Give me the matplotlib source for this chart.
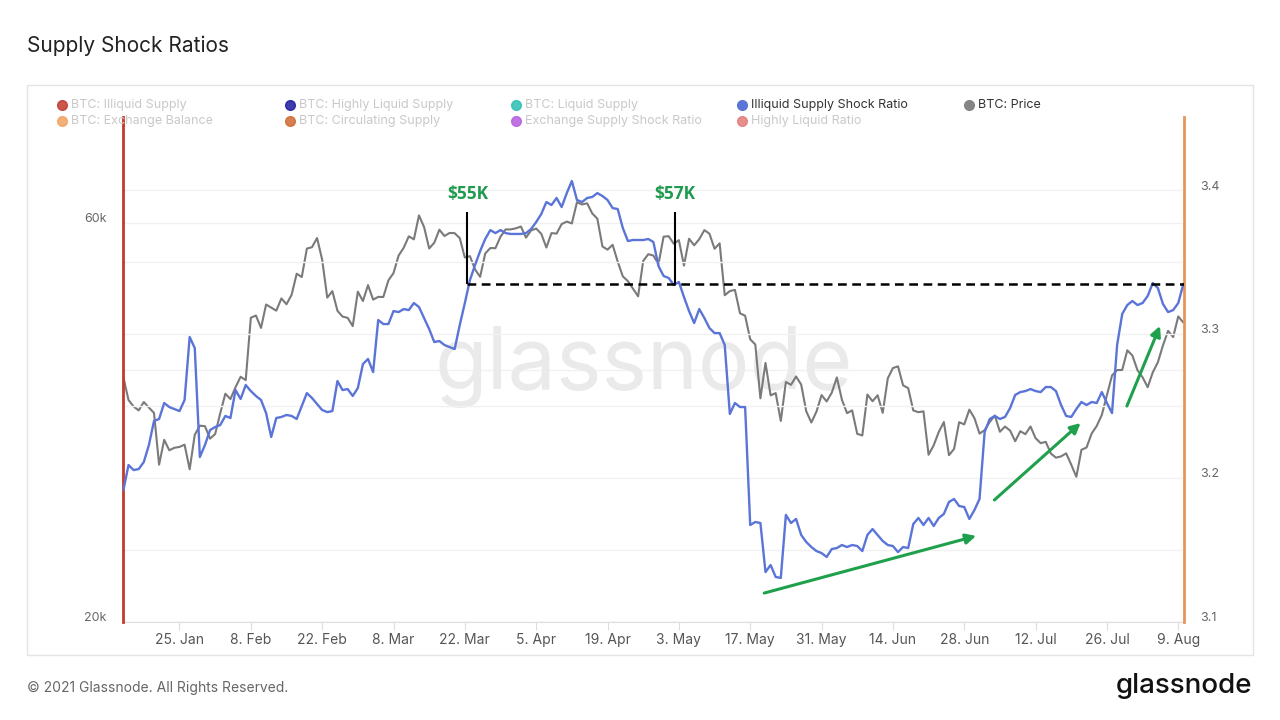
import matplotlib
matplotlib.use("Agg")
import matplotlib.pyplot as plt
import matplotlib.transforms as mtransforms
from matplotlib.lines import Line2D
from matplotlib.patches import Rectangle
import pandas as pd

plt.rcParams['font.family'] = ['Inter', 'DejaVu Sans']

# daily data, 14 Jan 2021 .. 10 Aug 2021
start = "2021-01-14"
btc_price = [
    39187, 36825, 36178, 35792, 36630, 36069, 35547, 30825, 33005, 32068, 32289, 32366, 32569, 30432, 33467, 34316, 34269, 33114,
    33538, 35510, 37473, 36926, 38144, 39266, 38904, 46196, 46481, 44919, 47910, 47505, 47105, 48717, 47945, 49199, 52149, 51679,
    55888, 56100, 57539, 54207, 48824, 49705, 47093, 46339, 46188, 45137,
    49632, 48378, 50538, 48561, 48927, 48912, 51206, 52246, 54824, 56008, 57805, 57332, 61243, 59302, 55907, 56804, 58870, 57858,
    58346, 58313, 57523, 54529, 54738, 52774, 51704, 55137, 55974, 55948, 57750, 58918, 58918,
    59095, 59384, 57604, 58759, 59057, 58207, 56048, 58323, 58245, 59794, 60204, 59894, 63504, 63110, 63314, 61572, 60684, 56216,
    55724, 56474, 53906, 51762, 51094, 50050, 49004, 54022, 55033, 54824, 53555, 57750,
    57828, 56631, 57200, 53333, 57424, 56397, 57356, 58803, 58232, 55859, 56704, 49150, 49716, 49880, 46760, 46456, 43537, 42909,
    37002, 40782, 37304, 37536, 34770, 38705, 38402, 39294, 38436, 35697, 34616, 35678, 37333,
    36685, 37575, 39188, 36851, 35520, 35797, 33553, 33403, 37389, 36703, 37314, 35552, 39098, 40218, 40406, 38347, 38053, 35787,
    35615, 35698, 31676, 32505, 33724, 34663, 31637, 32186, 34650, 34434, 35867, 35041,
    33572, 33897, 34668, 35287, 33746, 34235, 33855, 32877, 33798, 33520, 34240, 33155, 32702, 32822, 31780, 31421, 31533, 31796,
    30817, 29807, 32110, 32313, 33581, 34292, 35350, 37337, 39406, 39995, 40008, 42236, 41626,
    39975, 39201, 38152, 39747, 40869, 42816, 44556, 43798, 46366, 45585,
]
shock_ratio = [
    3.1915, 3.2089, 3.2054, 3.2061, 3.2110, 3.2228, 3.2395, 3.2409, 3.2520, 3.2492, 3.2478, 3.2464, 3.2541, 3.2979, 3.2902, 3.2145,
    3.2228, 3.2332, 3.2353, 3.2367, 3.2430, 3.2416, 3.2610, 3.2548, 3.2645, 3.2603, 3.2569, 3.2541, 3.2450, 3.2284, 3.2416, 3.2423,
    3.2437, 3.2430, 3.2409, 3.2499, 3.2589, 3.2555, 3.2513, 3.2471, 3.2457, 3.2464, 3.2673, 3.2610, 3.2617, 3.2569, 3.2624, 3.2791,
    3.2826, 3.2735, 3.3097, 3.3069, 3.3069, 3.3159, 3.3152, 3.3173, 3.3166, 3.3215, 3.3187, 3.3111, 3.3034, 3.2944, 3.2951, 3.2923,
    3.2909, 3.2895, 3.3062, 3.3215, 3.3375, 3.3479, 3.3576, 3.3660, 3.3722, 3.3701, 3.3722, 3.3701, 3.3695, 3.3695, 3.3695, 3.3701,
    3.3729, 3.3778, 3.3834, 3.3917, 3.3896, 3.3945, 3.3882, 3.3979, 3.4063, 3.3931, 3.3917, 3.3945, 3.3952, 3.3979, 3.3959, 3.3931,
    3.3875, 3.3868, 3.3736, 3.3646, 3.3653, 3.3653, 3.3653, 3.3660, 3.3639, 3.3472, 3.3403, 3.3389, 3.3340, 3.3361, 3.3257, 3.3159,
    3.3076, 3.3173, 3.3111, 3.3041, 3.3006, 3.3006, 3.2923, 3.2444, 3.2520, 3.2492, 3.2492, 3.1672, 3.1693, 3.1686, 3.1345, 3.1394,
    3.1311, 3.1304, 3.1742, 3.1686, 3.1714, 3.1603, 3.1554, 3.1519, 3.1491, 3.1477, 3.1450, 3.1505, 3.1512, 3.1533, 3.1519, 3.1533,
    3.1526, 3.1491, 3.1603, 3.1644, 3.1603, 3.1561, 3.1533, 3.1526, 3.1484, 3.1519, 3.1512, 3.1679, 3.1721, 3.1672, 3.1721, 3.1665,
    3.1721, 3.1749, 3.1832, 3.1853, 3.1804, 3.1797, 3.1714, 3.1776, 3.1853, 3.2318, 3.2409, 3.2430, 3.2409, 3.2423, 3.2485, 3.2576,
    3.2596, 3.2603, 3.2617, 3.2603, 3.2596, 3.2631, 3.2631, 3.2603, 3.2506, 3.2430, 3.2423, 3.2478, 3.2527, 3.2506, 3.2527, 3.2520,
    3.2596, 3.2520, 3.2450, 3.2923, 3.3139, 3.3201, 3.3229, 3.3201, 3.3215, 3.3264, 3.3354, 3.3319, 3.3208, 3.3152, 3.3166, 3.3215,
    3.3347,
]
dates = pd.date_range(start, periods=len(btc_price), freq="D")

# x ticks every two weeks
tick_dates = pd.date_range("2021-01-25", "2021-08-09", freq="14D")
tick_labels = [f"{d.day}. {d.strftime('%b')}" for d in tick_dates]

# annotations
level_ratio = 3.3347
marker_top = 3.3847
marks = [("2021-03-22 12:00", "$55K"), ("2021-05-02 06:00", "$57K")]
arrows = [
    (("2021-05-19 18:00", 3.1199), ("2021-06-30 08:00", 3.1596)),
    (("2021-07-03 22:00", 3.1846), ("2021-07-20 20:00", 3.2381)),
    (("2021-07-29 22:00", 3.2499), ("2021-08-05 10:00", 3.3056)),
]

legend_items = [
    ("BTC: Illiquid Supply", "#c0392b", False), ("BTC: Highly Liquid Supply", "#1d1aa0", False),
    ("BTC: Liquid Supply", "#2bbfb3", False), ("Illiquid Supply Shock Ratio", "#5a74d8", True),
    ("BTC: Price", "#858585", True),
    ("BTC: Exchange Balance", "#f0a262", False), ("BTC: Circulating Supply", "#cf6a33", False),
    ("Exchange Supply Shock Ratio", "#b65ddf", False), ("Highly Liquid Ratio", "#e27b78", False),
]

fig = plt.figure(figsize=(12.8, 7.2), dpi=100)
fig.patch.set_facecolor("white")

# outer frame
fig.add_artist(Rectangle((27 / 1280, 1 - 655 / 720), (1253 - 27) / 1280, (655 - 85) / 720,
                         transform=fig.transFigure, fill=False, edgecolor="#e4e4e4", lw=1))

ax = fig.add_axes([123 / 1280, 1 - 621.7 / 720, (1184 - 123) / 1280, (621.7 - 117) / 720])
ax2 = ax.twinx()

# price (left, log)
ax.plot(dates, btc_price, color="#7a7a7a", lw=1.5, zorder=3)
ax.set_yscale("log")
ax.set_ylim(20000, 80300)
ax.set_yticks([20000, 40000, 60000])
ax.set_yticklabels(["20k", "", "60k"])
ax.yaxis.set_minor_locator(matplotlib.ticker.NullLocator())
ax.grid(axis="y", color="#f1f1f1", lw=1)
ax.set_axisbelow(True)

# ratio (right)
ax2.plot(dates, shock_ratio, color="#5a74d8", lw=1.7, zorder=3)
ax2.set_ylim(3.1, 3.4508)
ax2.set_yticks([3.1, 3.15, 3.2, 3.25, 3.3, 3.35, 3.4])
ax2.set_yticklabels(["3.1", "", "3.2", "", "3.3", "", "3.4"])
ax2.grid(axis="y", color="#f1f1f1", lw=1, zorder=0)

ax.set_xlim(pd.Timestamp("2021-01-13 22:00"), pd.Timestamp("2021-08-10 03:00"))
ax.set_xticks(tick_dates)
ax.set_xticklabels(tick_labels)

for a in (ax, ax2):
    a.spines["top"].set_visible(False)
    a.tick_params(axis="y", length=0, labelsize=9, labelcolor="#666666", pad=12)
ax.tick_params(axis="x", length=6, color="#dddddd", labelsize=10, labelcolor="#555555", pad=2)
ax.spines["bottom"].set_color("#dddddd")
ax2.spines["bottom"].set_visible(False)
ax.spines["right"].set_visible(False)
ax2.spines["left"].set_color("#c4392a")
ax2.spines["left"].set_linewidth(2)
ax2.spines["right"].set_color("#e8955a")
ax2.spines["right"].set_linewidth(2)
ax.spines["left"].set_visible(False)

up = mtransforms.ScaledTranslation(0, 5 / 100, fig.dpi_scale_trans)
for lab in ax.get_yticklabels() + ax2.get_yticklabels():
    lab.set_transform(lab.get_transform() + up)

# watermark
ax.text(0.4905, 0.505, "glassnode", transform=ax.transAxes, ha="center", va="center",
        fontsize=62, color="#eaeaea", zorder=1)

# annotations
ax2.hlines(level_ratio, pd.Timestamp(marks[0][0]), ax.get_xlim()[1], colors="black",
           linestyles=(0, (3.5, 2.2)), lw=1.8, zorder=5)
for when, label in marks:
    t = pd.Timestamp(when)
    ax2.vlines(t, level_ratio, marker_top, colors="black", lw=1.5, zorder=5)
    ax2.text(t, marker_top + 0.0125, label, ha="center", va="center", color="#1f9a4e",
             fontsize=12.5, fontweight="bold", family=["Open Sans", "DejaVu Sans"], zorder=6)
for (d0, r0), (d1, r1) in arrows:
    ax2.annotate("", xy=(pd.Timestamp(d1), r1), xytext=(pd.Timestamp(d0), r0),
                 arrowprops=dict(arrowstyle="-|>,head_length=0.6,head_width=0.3",
                                 color="#1fa04c", lw=2.2, shrinkA=0, shrinkB=0), zorder=6)

# legend
cols = [62, 290, 516, 742, 969]
for k, (name, col, on) in enumerate(legend_items):
    row, c = divmod(k, 5)
    y = 1 - (105 + 16 * row) / 720
    x = cols[c] / 1280
    fig.add_artist(Line2D([x], [y], marker="o", markersize=7, color=col, alpha=1 if on else 0.85,
                          transform=fig.transFigure, linestyle="none"))
    fig.text(x + 9 / 1280, y, name, ha="left", va="center", fontsize=9,
             color="#333333" if on else "#c9c9c9")

fig.text(27 / 1280, 1 - 46 / 720, "Supply Shock Ratios", ha="left", va="center",
         fontsize=15, color="#222222")
fig.text(27 / 1280, 1 - 688 / 720, "© 2021 Glassnode. All Rights Reserved.", ha="left",
         va="center", fontsize=10, color="#666666")
fig.text(1252 / 1280, 1 - 686 / 720, "glassnode", ha="right", va="center", fontsize=20,
         fontweight="medium", color="#111111")

fig.savefig("out.png", dpi=100)
